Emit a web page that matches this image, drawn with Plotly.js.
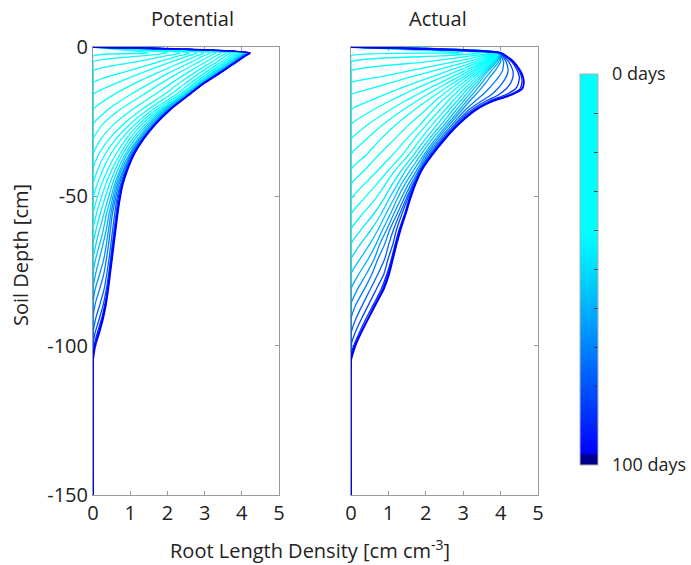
<!DOCTYPE html>
<html><head><meta charset="utf-8">
<script src="https://cdn.plot.ly/plotly-3.0.1.min.js"></script>
<style>html,body{margin:0;padding:0;background:#fff}#chart{width:691px;height:565px}</style>
</head><body><div id="chart"></div>
<script>
// ---------- DATA ----------
const days = [4,8,12,16,20,24,28,32,36,40,44,48,52,56,60,64,68,72,76,80,84,88,92,96,100];

// depth grid (cm below surface) for the Potential panel
const depthPotential = [0,2,3,5,8,12,16,21,26,31,36,41,46,51,56,61,66,71,76,81,86,91,96,100,103,105,150];
// Potential root length density [cm cm-3], one profile per day
const pot04 = [0,1.5,0,0,0,0,0,0,0,0,0,0,0,0,0,0,0,0,0,0,0,0,0,0,0,0,0];
const pot08 = [0,2.0,1.3,0,0,0,0,0,0,0,0,0,0,0,0,0,0,0,0,0,0,0,0,0,0,0,0];
const pot12 = [0,2.35,1.95,1.15,0,0,0,0,0,0,0,0,0,0,0,0,0,0,0,0,0,0,0,0,0,0,0];
const pot16 = [0,2.6,2.3,1.75,0.95,0,0,0,0,0,0,0,0,0,0,0,0,0,0,0,0,0,0,0,0,0,0];
const pot20 = [0,2.8,2.55,2.1,1.45,0.65,0,0,0,0,0,0,0,0,0,0,0,0,0,0,0,0,0,0,0,0,0];
const pot24 = [0,2.98,2.78,2.4,1.85,1.15,0.55,0,0,0,0,0,0,0,0,0,0,0,0,0,0,0,0,0,0,0,0];
const pot28 = [0,3.15,2.97,2.65,2.15,1.55,1.0,0.4,0,0,0,0,0,0,0,0,0,0,0,0,0,0,0,0,0,0,0];
const pot32 = [0,3.3,3.14,2.85,2.4,1.85,1.35,0.72,0.25,0,0,0,0,0,0,0,0,0,0,0,0,0,0,0,0,0,0];
const pot36 = [0,3.45,3.3,3.03,2.62,2.12,1.65,1.05,0.55,0.2,0,0,0,0,0,0,0,0,0,0,0,0,0,0,0,0,0];
const pot40 = [0,3.58,3.44,3.19,2.8,2.33,1.9,1.3,0.8,0.42,0.15,0,0,0,0,0,0,0,0,0,0,0,0,0,0,0,0];
const pot44 = [0,3.7,3.56,3.33,2.95,2.5,2.08,1.47,0.98,0.6,0.32,0.13,0,0,0,0,0,0,0,0,0,0,0,0,0,0,0];
const pot48 = [0,3.8,3.67,3.44,3.08,2.63,2.22,1.6,1.12,0.75,0.47,0.27,0.11,0,0,0,0,0,0,0,0,0,0,0,0,0,0];
const pot52 = [0,3.88,3.75,3.53,3.18,2.73,2.32,1.7,1.22,0.88,0.61,0.4,0.23,0.1,0,0,0,0,0,0,0,0,0,0,0,0,0];
const pot56 = [0,3.95,3.82,3.6,3.26,2.8,2.39,1.78,1.31,0.97,0.72,0.51,0.34,0.21,0.09,0,0,0,0,0,0,0,0,0,0,0,0];
const pot60 = [0,4.01,3.88,3.66,3.32,2.86,2.44,1.84,1.39,1.05,0.79,0.6,0.44,0.31,0.19,0.085,0,0,0,0,0,0,0,0,0,0,0];
const pot64 = [0,4.06,3.93,3.71,3.37,2.9,2.48,1.89,1.46,1.12,0.86,0.67,0.52,0.4,0.29,0.18,0.08,0,0,0,0,0,0,0,0,0,0];
const pot68 = [0,4.1,3.97,3.75,3.41,2.93,2.51,1.94,1.51,1.19,0.91,0.73,0.58,0.47,0.36,0.28,0.18,0.07,0,0,0,0,0,0,0,0,0];
const pot72 = [0,4.13,4.0,3.78,3.44,2.95,2.53,1.98,1.56,1.23,0.97,0.77,0.62,0.52,0.43,0.36,0.27,0.17,0.07,0,0,0,0,0,0,0,0];
const pot76 = [0,4.16,4.03,3.8,3.46,2.97,2.55,2.01,1.6,1.27,1.0,0.82,0.66,0.56,0.48,0.42,0.36,0.29,0.18,0.06,0,0,0,0,0,0,0];
const pot80 = [0,4.18,4.05,3.82,3.47,2.98,2.56,2.04,1.63,1.3,1.03,0.85,0.7,0.6,0.52,0.47,0.42,0.36,0.29,0.18,0.06,0,0,0,0,0,0];
const pot84 = [0,4.19,4.06,3.83,3.48,2.99,2.57,2.05,1.64,1.32,1.06,0.88,0.74,0.64,0.58,0.53,0.48,0.43,0.37,0.3,0.19,0.07,0,0,0,0,0];
const pot88 = [0,4.2,4.07,3.84,3.49,2.99,2.57,2.06,1.65,1.33,1.07,0.9,0.76,0.67,0.62,0.57,0.52,0.47,0.42,0.36,0.28,0.17,0.05,0,0,0,0];
const pot92 = [0,4.21,4.08,3.84,3.49,3.0,2.58,2.06,1.66,1.34,1.08,0.91,0.78,0.7,0.64,0.59,0.54,0.49,0.44,0.39,0.32,0.23,0.11,0.03,0,0,0];
const pot96 = [0,4.21,4.08,3.85,3.5,3.0,2.58,2.07,1.66,1.34,1.09,0.92,0.79,0.71,0.65,0.6,0.55,0.5,0.45,0.4,0.34,0.25,0.14,0.05,0.01,0,0];
const pot100 = [0,4.22,4.09,3.85,3.5,3.0,2.58,2.07,1.67,1.35,1.1,0.93,0.8,0.72,0.66,0.61,0.56,0.51,0.46,0.41,0.35,0.27,0.16,0.06,0.02,0,0];

// depth grid (cm) for the Actual panel
const depthActual = [0,2,3,5,8,10,12,14,16,18,21,26,31,36,41,46,51,56,61,66,71,76,81,86,91,96,100,103,105,150];
const act04 = [0,3.0,0,0,0,0,0,0,0,0,0,0,0,0,0,0,0,0,0,0,0,0,0,0,0,0,0,0,0,0];
const act08 = [0,3.5,2.4,0,0,0,0,0,0,0,0,0,0,0,0,0,0,0,0,0,0,0,0,0,0,0,0,0,0,0];
const act12 = [0,3.75,3.2,2.0,0,0,0,0,0,0,0,0,0,0,0,0,0,0,0,0,0,0,0,0,0,0,0,0,0,0];
const act16 = [0,3.85,3.5,2.75,1.55,0.78,0,0,0,0,0,0,0,0,0,0,0,0,0,0,0,0,0,0,0,0,0,0,0,0];
const act20 = [0,3.9,3.65,3.1,2.2,1.6,1.05,0.5,0,0,0,0,0,0,0,0,0,0,0,0,0,0,0,0,0,0,0,0,0,0];
const act24 = [0,3.92,3.72,3.3,2.6,2.15,1.7,1.28,0.88,0.5,0,0,0,0,0,0,0,0,0,0,0,0,0,0,0,0,0,0,0,0];
const act28 = [0,3.94,3.77,3.43,2.85,2.47,2.08,1.72,1.38,1.05,0.6,0,0,0,0,0,0,0,0,0,0,0,0,0,0,0,0,0,0,0];
const act32 = [0,3.96,3.8,3.52,3.03,2.7,2.38,2.06,1.76,1.46,1.05,0.45,0,0,0,0,0,0,0,0,0,0,0,0,0,0,0,0,0,0];
const act36 = [0,3.97,3.83,3.58,3.15,2.87,2.58,2.3,2.03,1.77,1.4,0.85,0.4,0,0,0,0,0,0,0,0,0,0,0,0,0,0,0,0,0];
const act40 = [0,3.98,3.85,3.63,3.25,3.0,2.75,2.5,2.26,2.03,1.7,1.2,0.78,0.42,0,0,0,0,0,0,0,0,0,0,0,0,0,0,0,0];
const act44 = [0,3.99,3.87,3.67,3.33,3.1,2.88,2.66,2.45,2.25,2.0,1.55,1.15,0.75,0.38,0,0,0,0,0,0,0,0,0,0,0,0,0,0,0];
const act48 = [0,4.0,3.9,3.72,3.4,3.2,3.0,2.8,2.62,2.43,2.2,1.85,1.47,1.12,0.74,0.35,0,0,0,0,0,0,0,0,0,0,0,0,0,0];
const act52 = [0,4.0,3.92,3.76,3.46,3.28,3.1,2.92,2.76,2.6,2.38,2.02,1.68,1.38,1.02,0.68,0.33,0,0,0,0,0,0,0,0,0,0,0,0,0];
const act56 = [0,4.0,3.94,3.8,3.52,3.35,3.2,3.03,2.88,2.73,2.52,2.17,1.85,1.55,1.2,0.92,0.64,0.3,0,0,0,0,0,0,0,0,0,0,0,0];
const act60 = [0,4.0,3.95,3.83,3.57,3.42,3.28,3.12,2.98,2.84,2.63,2.3,1.98,1.68,1.37,1.1,0.87,0.6,0.28,0,0,0,0,0,0,0,0,0,0,0];
const act64 = [0,4.0,3.96,3.86,3.62,3.48,3.35,3.2,3.07,2.93,2.73,2.41,2.08,1.78,1.48,1.24,1.01,0.8,0.55,0.25,0,0,0,0,0,0,0,0,0,0];
const act68 = [0,4.0,3.97,3.9,3.67,3.54,3.42,3.28,3.15,3.02,2.82,2.5,2.16,1.87,1.6,1.34,1.14,0.93,0.73,0.5,0.24,0,0,0,0,0,0,0,0,0];
const act72 = [0,4.0,3.98,3.95,3.75,3.62,3.5,3.37,3.24,3.1,2.9,2.57,2.24,1.95,1.69,1.44,1.23,1.05,0.85,0.67,0.46,0.21,0,0,0,0,0,0,0,0];
const act76 = [0,4.0,4.0,4.0,3.85,3.72,3.6,3.47,3.33,3.18,2.97,2.63,2.3,2.0,1.77,1.53,1.33,1.14,0.96,0.77,0.62,0.41,0.18,0,0,0,0,0,0,0];
const act80 = [0,4.0,4.02,4.08,4.05,3.95,3.82,3.68,3.52,3.33,3.06,2.7,2.36,2.05,1.82,1.6,1.41,1.23,1.04,0.9,0.72,0.56,0.36,0.14,0,0,0,0,0,0];
const act84 = [0,4.0,4.05,4.15,4.2,4.15,4.05,3.92,3.75,3.5,3.15,2.76,2.41,2.1,1.85,1.65,1.47,1.3,1.14,1.01,0.9,0.72,0.52,0.32,0.13,0,0,0,0,0];
const act88 = [0,4.0,4.08,4.22,4.33,4.33,4.27,4.15,3.95,3.62,3.23,2.8,2.45,2.13,1.87,1.68,1.51,1.36,1.22,1.12,0.99,0.88,0.68,0.48,0.28,0.1,0,0,0,0];
const act92 = [0,4.0,4.12,4.3,4.45,4.5,4.48,4.4,4.13,3.72,3.29,2.84,2.47,2.16,1.89,1.7,1.55,1.43,1.29,1.18,1.08,0.96,0.81,0.61,0.4,0.21,0.07,0,0,0];
const act96 = [0,4.0,4.14,4.33,4.5,4.56,4.57,4.52,4.23,3.78,3.32,2.86,2.49,2.17,1.9,1.71,1.57,1.45,1.31,1.2,1.1,0.99,0.85,0.65,0.45,0.25,0.1,0.02,0,0];
const act100 = [0,4.0,4.15,4.35,4.53,4.6,4.62,4.58,4.3,3.82,3.35,2.87,2.5,2.18,1.9,1.72,1.58,1.46,1.33,1.22,1.12,1.02,0.88,0.67,0.46,0.26,0.12,0.04,0,0];

const potentialSeries = [pot04,pot08,pot12,pot16,pot20,pot24,pot28,pot32,pot36,pot40,pot44,pot48,pot52,pot56,pot60,pot64,pot68,pot72,pot76,pot80,pot84,pot88,pot92,pot96,pot100];
const actualSeries = [act04,act08,act12,act16,act20,act24,act28,act32,act36,act40,act44,act48,act52,act56,act60,act64,act68,act72,act76,act80,act84,act88,act92,act96,act100];

const panelTitles = ['Potential','Actual'];
const yTickVals = [0,-50,-100,-150];
const yTickText = ['0','-50','-100','-150'];
const cbTickVals = [-100,-90,-80,-70,-60,-50,-40,-30,-20,-10,0];
const cbTickText = ['\u00a0\u00a0100 days','','','','','','','','','','\u00a0\u00a00 days'];

// ---------- STYLE ----------
const FONT = 'Open Sans, Lato, DejaVu Sans, sans-serif';
const stops = [
  [0,[0,0,140]],[0.025,[0,0,140]],[0.03,[0,0,255]],[0.15,[0,60,255]],
  [0.3,[0,130,255]],[0.45,[0,200,250]],[0.55,[0,240,255]],[0.6,[0,255,255]],[1,[0,255,255]]
];
const colorscale = stops.map(s => [s[0], 'rgb(' + s[1].join(',') + ')']);
function colorAt(p){
  p = Math.max(0.03, Math.min(1, p));
  for (let i = 1; i < stops.length; i++){
    if (p <= stops[i][0]){
      const a = stops[i-1], b = stops[i];
      const t = (p - a[0]) / (b[0] - a[0] || 1);
      const c = a[1].map((v,j) => Math.round(v + (b[1][j]-v)*t));
      return 'rgb(' + c.join(',') + ')';
    }
  }
  return 'rgb(0,255,255)';
}

const traces = [];
function addPanel(series, depth, xa, ya){
  series.forEach((vals, i) => {
    const d = days[i];
    traces.push({
      type:'scatter', mode:'lines', x: vals, y: depth.map(z => -z),
      xaxis: xa, yaxis: ya, showlegend:false, hoverinfo:'skip',
      line:{color: colorAt(1 - Math.pow(d/100, 1.5)), width: i === series.length-1 ? 1.8 : 1.3, shape:'spline', smoothing:0.6}
    });
  });
}
addPanel(potentialSeries, depthPotential, 'x', 'y');
addPanel(actualSeries, depthActual, 'x2', 'y2');

// colour bar carrier
traces.push({
  type:'scatter', mode:'markers', x:[null,null], y:[null,null], xaxis:'x', yaxis:'y',
  showlegend:false, hoverinfo:'skip',
  marker:{color:[-100,0], cmin:-100, cmax:0, colorscale: colorscale, showscale:true, size:1,
    colorbar:{
      x: 580/691, xanchor:'left', y: 1 - 269.5/565, yanchor:'middle',
      len: 391/565, lenmode:'fraction', thickness:18, thicknessmode:'pixels',
      xpad:0, ypad:0, outlinecolor:'#b0b0b0', outlinewidth:1,
      tickvals: cbTickVals, ticktext: cbTickText, ticks:'inside', ticklen:4, tickcolor:'#335',
      tickfont:{family:FONT, size:18, color:'#222'}
    }}
});

const axBase = {
  range:[0,5], dtick:1, tick0:0, ticks:'inside', ticklen:4, tickcolor:'#999',
  showline:true, linecolor:'#999', linewidth:1, mirror:'ticks', layer:'below traces',
  showgrid:false, zeroline:false, fixedrange:true,
  tickfont:{family:FONT, size:20, color:'#222'}
};
const ayBase = {
  range:[-150,0], tickvals:yTickVals, ticktext:yTickText, ticks:'inside', ticklen:4, tickcolor:'#999',
  showline:true, linecolor:'#999', linewidth:1, mirror:'ticks', layer:'below traces',
  showgrid:false, zeroline:false, fixedrange:true,
  tickfont:{family:FONT, size:20, color:'#222'}
};
const yDom = [70/565, 518/565];

const layout = {
  width:691, height:565, paper_bgcolor:'#fff', plot_bgcolor:'#fff',
  margin:{l:0,r:0,t:0,b:0}, showlegend:false,
  font:{family:FONT, color:'#222'},
  xaxis: Object.assign({}, axBase, {domain:[93/691, 279/691], anchor:'y'}),
  yaxis: Object.assign({}, ayBase, {domain:yDom, anchor:'x'}),
  xaxis2: Object.assign({}, axBase, {domain:[351/691, 538/691], anchor:'y2'}),
  yaxis2: Object.assign({}, ayBase, {domain:yDom, anchor:'x2', showticklabels:false}),
  annotations:[
    {text:panelTitles[0], xref:'paper', yref:'paper', x:192/691, y:1-19/565, xanchor:'center', yanchor:'middle', showarrow:false, font:{family:FONT, size:20, color:'#222'}},
    {text:panelTitles[1], xref:'paper', yref:'paper', x:438/691, y:1-19/565, xanchor:'center', yanchor:'middle', showarrow:false, font:{family:FONT, size:20, color:'#222'}},
    {text:'Soil Depth [cm]', xref:'paper', yref:'paper', x:20/691, y:1-255/565, xanchor:'center', yanchor:'middle', textangle:-90, showarrow:false, font:{family:FONT, size:20, color:'#222'}},
    {text:'Root Length Density [cm cm<sup>-3</sup>]', xref:'paper', yref:'paper', x:310/691, y:1-549/565, xanchor:'center', yanchor:'middle', showarrow:false, font:{family:FONT, size:20, color:'#222'}}
  ]
};

Plotly.newPlot('chart', traces, layout, {displayModeBar:false, staticPlot:true});
</script>
</body></html>
